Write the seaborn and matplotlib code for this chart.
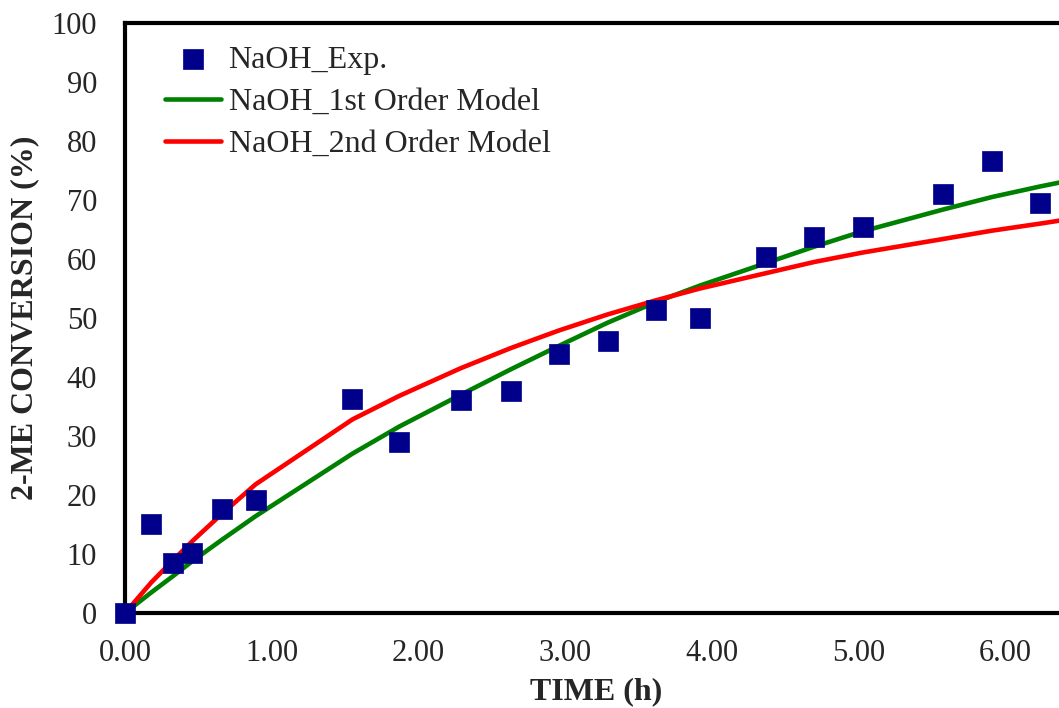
import numpy as np
import pandas as pd
import matplotlib
matplotlib.use("Agg")
import matplotlib.pyplot as plt
import seaborn as sns

time_h = [0.00, 0.18, 0.33, 0.46, 0.66, 0.89, 1.55, 1.87, 2.29, 2.63, 2.96,
          3.29, 3.62, 3.92, 4.37, 4.70, 5.03, 5.58, 5.91, 6.24]
conv_exp = [0.0, 15.1, 8.5, 10.2, 17.7, 19.2, 36.3, 29.0, 36.1, 37.6, 43.9,
            46.1, 51.4, 50.0, 60.3, 63.7, 65.4, 71.0, 76.6, 69.5]

# model curves
model_t = [0.00, 0.18, 0.33, 0.46, 0.66, 0.89, 1.55, 1.87, 2.29, 2.63, 2.96,
           3.29, 3.62, 3.92, 4.37, 4.70, 5.03, 5.58, 5.91, 6.24, 6.50]
first_order = [0.0, 3.5, 6.3, 8.8, 12.4, 16.4, 27.0, 31.6, 37.0, 41.3, 45.3,
               49.2, 52.7, 55.5, 59.3, 62.1, 64.7, 68.4, 70.5, 72.3, 73.6]
second_order = [0.0, 5.2, 9.0, 12.2, 16.8, 21.8, 32.8, 36.8, 41.5, 44.9, 47.9,
                50.6, 53.0, 55.0, 57.6, 59.5, 61.1, 63.4, 64.8, 66.0, 67.0]

df_exp = pd.DataFrame({"t": time_h, "x": conv_exp})
df_mod = pd.DataFrame({"t": model_t, "first": first_order, "second": second_order})

sns.set_style("white")
plt.rcParams["font.family"] = ["Liberation Serif", "DejaVu Serif"]

fig = plt.figure(figsize=(10.59, 7.08), dpi=100)
ax = fig.add_axes([125 / 1059, 1 - 613 / 708, (1059 - 125) / 1059 + 0.01, 590 / 708])

sns.scatterplot(data=df_exp, x="t", y="x", ax=ax, marker="s", s=190,
                color="#00008B", edgecolor="#00008B", linewidth=0.5,
                label="NaOH_Exp.", zorder=3, clip_on=False)
sns.lineplot(data=df_mod, x="t", y="first", ax=ax, color="#008000", lw=3.3,
             label="NaOH_1st Order Model", zorder=2)
sns.lineplot(data=df_mod, x="t", y="second", ax=ax, color="#FF0000", lw=3.3,
             label="NaOH_2nd Order Model", zorder=2)

ax.set_xlim(0, 6.44)
ax.set_ylim(0, 100)
ax.set_xticks(np.arange(0, 7, 1))
ax.set_xticklabels([f"{v:.2f}" for v in np.arange(0, 7, 1)])
ax.set_yticks(np.arange(0, 101, 10))

ax.set_xlabel("TIME (h)", fontsize=23, fontweight="bold")
ax.set_ylabel("2-ME CONVERSION (%)", fontsize=23, fontweight="bold")
ax.xaxis.set_label_coords(0.499, -0.108)
ax.yaxis.set_label_coords(-0.091, 0.5)
ax.tick_params(axis="both", direction="in", length=8, width=2, labelsize=22)
ax.tick_params(axis="y", pad=20)
ax.tick_params(axis="x", pad=19)

for side in ["left", "bottom", "top"]:
    ax.spines[side].set_linewidth(3)
    ax.spines[side].set_color("black")
ax.spines["right"].set_visible(False)

ax.legend(loc="upper left", frameon=False, fontsize=23, handlelength=1.75,
          handletextpad=0.25, labelspacing=0.4, borderaxespad=0, borderpad=0,
          bbox_to_anchor=(0.042, 0.962))

fig.savefig("out.png", dpi=100)
